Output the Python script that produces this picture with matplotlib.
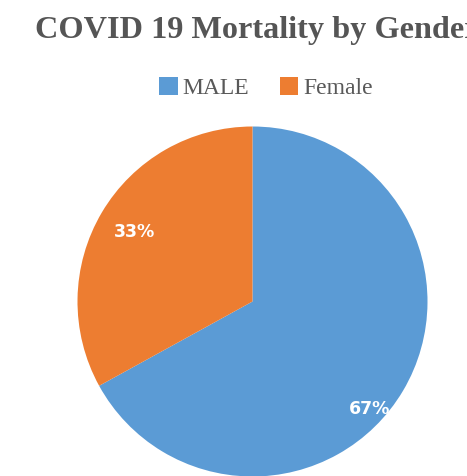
import numpy as np
import matplotlib
matplotlib.use('Agg')
import matplotlib.pyplot as plt
from matplotlib.patches import Patch

### DATA
genders = ['MALE', 'Female']
shares  = [67, 33]
colors  = ['#5B9BD5', '#ED7D31']
title   = 'COVID 19 Mortality by Gender'

# label placement (Excel "best fit"): angle in degrees, distance in radius units
lab_ang  = [-42.5, 149.5]
lab_dist = [0.91, 0.785]

### FIGURE
W, H = 467, 476
fig = plt.figure(figsize=(W / 100, H / 100), dpi=100)
fig.patch.set_facecolor('white')

# pie axes: centre ~ (252.5, 301.5) px, radius ~175 px
cx, cy, r = 252.5, 301.5, 175
ax = fig.add_axes([(cx - r) / W, (H - cy - r) / H, 2 * r / W, 2 * r / H])
wedges, _ = ax.pie(shares, colors=colors, startangle=90, counterclock=False,
                   radius=1, wedgeprops=dict(linewidth=0))
ax.set_xlim(-1, 1)
ax.set_ylim(-1, 1)
ax.axis('off')

for v, a, d in zip(shares, lab_ang, lab_dist):
    t = np.deg2rad(a)
    ax.text(d * np.cos(t), d * np.sin(t), '%d%%' % v, ha='center', va='center',
            color='white', fontsize=12.5, fontweight='bold', family='DejaVu Sans')

### TITLE (cut off at the right edge, as in the original)
fig.text(35 / W, 1 - 38 / H, title, ha='left', va='baseline',
         fontsize=23.2, fontweight='bold', family='Liberation Serif', color='#555555')

### LEGEND
handles = [Patch(facecolor=c, edgecolor='none') for c in colors]
fig.legend(handles, genders, loc='center', bbox_to_anchor=(266 / W, 1 - 88 / H),
           ncol=2, frameon=False, prop=dict(family='Liberation Serif', size=17),
           labelcolor='#595959', handlelength=0.78, handleheight=0.78,
           handletextpad=0.2, columnspacing=1.3, borderpad=0)

fig.savefig('out.png', dpi=100, facecolor='white')
